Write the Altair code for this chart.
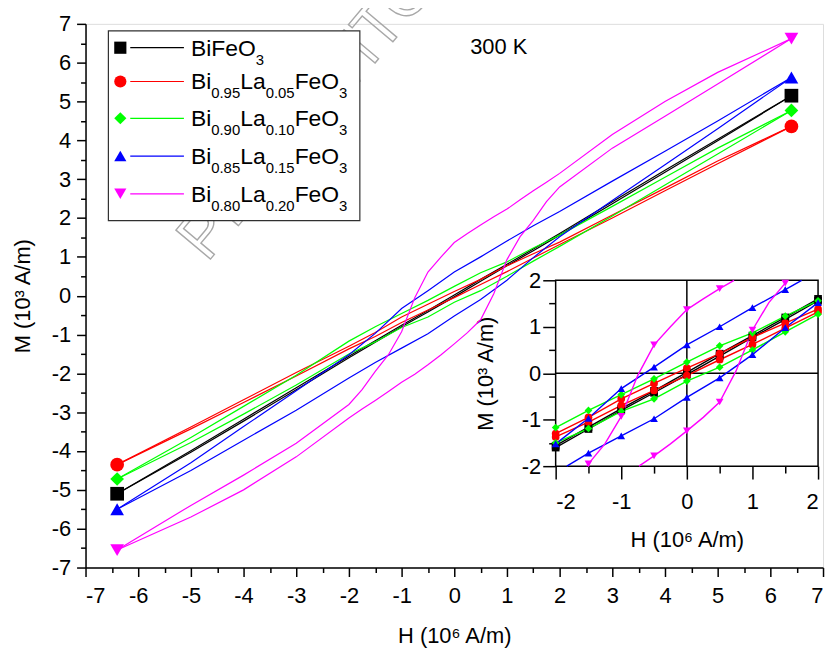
import altair as alt
import pandas as pd

# ---------------- data ----------------
SERIES = ["BiFeO3", "Bi0.95La0.05FeO3", "Bi0.90La0.10FeO3", "Bi0.85La0.15FeO3", "Bi0.80La0.20FeO3"]
COLORS = ["#000000", "#ff0000", "#00ff00", "#0000ff", "#ff00ff"]
INSET_MARK_COLORS = ["#000000", "#ff0000", "#0a7d0a", "#0000ff", "#ff00ff"]
SHAPES = ["square", "circle", "diamond", "triangle-up", "triangle-down"]

H_STD = [-6.4, -5, -4, -3, -2, -1.5, -1, -0.5, 0, 0.5, 1, 1.5, 2, 3, 4, 5, 6.4]
H_MAG = [-6.4, -5, -4, -3, -2, -1.75, -1.5, -1.25, -1, -0.75, -0.5, -0.25, 0, 0.25, 0.5,
         0.75, 1, 1.25, 1.5, 1.75, 2, 3, 4, 5, 6.4]

# ascending (lower) branch and descending (upper) branch, M in 10^3 A/m
BLACK_LOW = [-5.10, -4.03, -3.23, -2.42, -1.60, -1.20, -0.80, -0.42, -0.03, 0.37, 0.77, 1.16, 1.56, 2.37, 3.18, 3.99, 5.15]
BLACK_UP = [-5.10, -3.99, -3.18, -2.37, -1.56, -1.16, -0.76, -0.38, 0.02, 0.42, 0.81, 1.20, 1.60, 2.42, 3.23, 4.03, 5.15]
RED_LOW = [-4.35, -3.43, -2.75, -2.07, -1.37, -1.05, -0.69, -0.37, -0.05, 0.29, 0.62, 0.97, 1.32, 2.00, 2.70, 3.40, 4.36]
RED_UP = [-4.35, -3.38, -2.68, -1.98, -1.30, -0.95, -0.55, -0.22, 0.11, 0.42, 0.77, 1.08, 1.38, 2.08, 2.77, 3.47, 4.36]
GREEN_LOW = [-4.72, -3.78, -3.05, -2.30, -1.50, -1.19, -0.82, -0.55, -0.17, 0.13, 0.50, 0.89, 1.27, 2.05, 2.85, 3.65, 4.77]
GREEN_UP = [-4.72, -3.65, -2.85, -2.05, -1.17, -0.80, -0.46, -0.12, 0.24, 0.59, 0.87, 1.23, 1.56, 2.30, 3.05, 3.80, 4.77]
BLUE_LOW = [-5.50, -4.50, -3.72, -2.95, -2.12, -1.72, -1.35, -0.98, -0.52, -0.10, 0.40, 0.98, 1.52, 2.45, 3.37, 4.30, 5.62]
BLUE_UP = [-5.50, -4.30, -3.37, -2.45, -1.52, -0.97, -0.33, 0.13, 0.61, 1.00, 1.41, 1.80, 2.17, 2.95, 3.72, 4.50, 5.62]
MAG_LOW = [-6.55, -5.70, -5.00, -4.15, -3.15, -2.92, -2.70, -2.47, -2.23, -2.02, -1.78, -1.52, -1.24,
           -0.95, -0.62, 0.05, 0.93, 1.52, 1.94, 2.42, 2.80, 3.80, 4.62, 5.45, 6.62]
MAG_UP = [-6.55, -5.40, -4.62, -3.80, -2.80, -2.42, -1.95, -1.52, -0.93, -0.05, 0.61, 1.00, 1.37,
          1.60, 1.82, 2.03, 2.23, 2.47, 2.70, 2.92, 3.15, 4.15, 5.00, 5.75, 6.62]

# where the inset curves meet the inset frame (series, branch, H, M)
INSET_EDGES = [
    ("Bi0.85La0.15FeO3", "low", -1.83, -2.0),
    ("Bi0.85La0.15FeO3", "up", 1.75, 2.0),
    ("Bi0.80La0.20FeO3", "low", -0.73, -2.0),
    ("Bi0.80La0.20FeO3", "low", 1.53, 2.0),
    ("Bi0.80La0.20FeO3", "up", -1.53, -2.0),
    ("Bi0.80La0.20FeO3", "up", 0.72, 2.0),
]

MAIN_TICKS = list(range(-7, 8))
MAIN_MINOR = [v + 0.5 for v in range(-7, 7)]
INSET_TICKS = [-2, -1, 0, 1, 2]
INSET_MINOR = [-1.5, -0.5, 0.5, 1.5]

LEGEND_PARTS = [
    [("BiFeO", 0), ("3", 1)],
    [("Bi", 0), ("0.95", 1), ("La", 0), ("0.05", 1), ("FeO", 0), ("3", 1)],
    [("Bi", 0), ("0.90", 1), ("La", 0), ("0.10", 1), ("FeO", 0), ("3", 1)],
    [("Bi", 0), ("0.85", 1), ("La", 0), ("0.15", 1), ("FeO", 0), ("3", 1)],
    [("Bi", 0), ("0.80", 1), ("La", 0), ("0.20", 1), ("FeO", 0), ("3", 1)],
]

# ---------------- tables ----------------
branches = {
    SERIES[0]: (H_STD, BLACK_LOW, BLACK_UP),
    SERIES[1]: (H_STD, RED_LOW, RED_UP),
    SERIES[2]: (H_STD, GREEN_LOW, GREEN_UP),
    SERIES[3]: (H_STD, BLUE_LOW, BLUE_UP),
    SERIES[4]: (H_MAG, MAG_LOW, MAG_UP),
}
rows = []
for si, s in enumerate(SERIES):
    hs, lo, up = branches[s]
    for h, m in zip(hs, lo):
        rows.append(dict(series=s, branch="low", H=h, M=m, si=si))
    for h, m in zip(hs, up):
        rows.append(dict(series=s, branch="up", H=h, M=m, si=si))
df = pd.DataFrame(rows)
df["key"] = df["series"] + "|" + df["branch"]

ends = df[(df["branch"] == "low") & (df["H"].abs() > 6)]

ins = df[(df["H"].abs() <= 2) & (df["M"].abs() <= 2)].copy()
edge_df = pd.DataFrame(INSET_EDGES, columns=["series", "branch", "H", "M"])
edge_df["key"] = edge_df["series"] + "|" + edge_df["branch"]
ins_lines = pd.concat([ins[["series", "branch", "H", "M", "key"]], edge_df], ignore_index=True)
ins_marks = ins[(ins["H"] * 2) % 1 == 0]

FONT = "Liberation Sans"
FS = 22
LABEL_EXPR = "'' + datum.value"

# plot area on page: x 86..828, y 22..569
W, Hh = 742, 547
xs_main = alt.Scale(domain=[-7, 7], nice=False, zero=False)
ys_main = alt.Scale(domain=[-7, 7], nice=False, zero=False)
# inset: x 559..823, y 280..467 on page
IX0, IX1, IY0, IY1 = 473, 737, 445, 258
xs_in = alt.Scale(domain=[-2, 2], range=[IX0, IX1], nice=False, zero=False)
ys_in = alt.Scale(domain=[-2, 2], range=[IY0, IY1], nice=False, zero=False)

color_scale = alt.Scale(domain=SERIES, range=COLORS)
shape_scale = alt.Scale(domain=SERIES, range=SHAPES)

axis_text = dict(grid=False, tickColor="black", tickWidth=1.5, labelFont=FONT, labelFontSize=FS,
                 labelColor="black", titleFont=FONT, titleFontSize=FS, titleFontWeight="normal",
                 titleColor="black", labelExpr=LABEL_EXPR)

main_x_axis = alt.Axis(orient="bottom", values=MAIN_TICKS, tickSize=9, labelPadding=9,
                       title="H (10⁶ A/m)", titleAnchor="middle", titleBaseline="alphabetic",
                       titleY=75, domainColor="black", domainWidth=1.5, **axis_text)
main_y_axis = alt.Axis(orient="left", values=MAIN_TICKS, tickSize=9, labelPadding=6,
                       title="M (10³ A/m)", titleBaseline="alphabetic", titleX=-56,
                       titleAnchor="middle", domainColor="black", domainWidth=1.5, **axis_text)

lines = alt.Chart(df).mark_line(strokeWidth=1.2).encode(
    x=alt.X("H:Q", scale=xs_main, axis=main_x_axis),
    y=alt.Y("M:Q", scale=ys_main, axis=main_y_axis),
    color=alt.Color("series:N", scale=color_scale, legend=None),
    detail="key:N",
    order="H:Q",
)

end_marks = alt.Chart(ends).mark_point(filled=True, opacity=1, size=190).encode(
    x=alt.X("H:Q", scale=xs_main, axis=None),
    y=alt.Y("M:Q", scale=ys_main, axis=None),
    color=alt.Color("series:N", scale=color_scale, legend=None),
    shape=alt.Shape("series:N", scale=shape_scale, legend=None),
)

minor_main = alt.Chart(pd.DataFrame({"H": [0], "M": [0]})).mark_point(opacity=0).encode(
    x=alt.X("H:Q", scale=xs_main, axis=alt.Axis(orient="bottom", values=MAIN_MINOR, tickSize=5,
            labels=False, domain=False, title=None, grid=False, tickColor="black", tickWidth=1.5)),
    y=alt.Y("M:Q", scale=ys_main, axis=alt.Axis(orient="left", values=MAIN_MINOR, tickSize=5,
            labels=False, domain=False, title=None, grid=False, tickColor="black", tickWidth=1.5)),
)

# inset
frame = alt.Chart(pd.DataFrame({"x0": [INSET_TICKS[0]], "x1": [INSET_TICKS[-1]],
                                "y0": [INSET_TICKS[0]], "y1": [INSET_TICKS[-1]]})).mark_rect(
    fill="white", stroke="black", strokeWidth=1.5).encode(
    x=alt.X("x0:Q", scale=xs_in, axis=None), x2="x1:Q",
    y=alt.Y("y0:Q", scale=ys_in, axis=None), y2="y1:Q",
)
zero_v = alt.Chart(pd.DataFrame({"x": [0], "y0": [-2], "y1": [2]})).mark_rule(
    color="black", strokeWidth=1.5).encode(
    x=alt.X("x:Q", scale=xs_in, axis=None),
    y=alt.Y("y0:Q", scale=ys_in, axis=None), y2="y1:Q",
)
zero_h = alt.Chart(pd.DataFrame({"y": [0], "x0": [-2], "x1": [2]})).mark_rule(
    color="black", strokeWidth=1.5).encode(
    y=alt.Y("y:Q", scale=ys_in, axis=None),
    x=alt.X("x0:Q", scale=xs_in, axis=None), x2="x1:Q",
)
in_lines = alt.Chart(ins_lines).mark_line(strokeWidth=1.4).encode(
    x=alt.X("H:Q", scale=xs_in, axis=None),
    y=alt.Y("M:Q", scale=ys_in, axis=None),
    color=alt.Color("series:N", scale=color_scale, legend=None),
    detail="key:N",
    order="H:Q",
)
in_marks = alt.Chart(ins_marks).mark_point(filled=True, opacity=1, size=60).encode(
    x=alt.X("H:Q", scale=xs_in, axis=None),
    y=alt.Y("M:Q", scale=ys_in, axis=None),
    color=alt.Color("series:N", scale=alt.Scale(domain=SERIES, range=INSET_MARK_COLORS), legend=None),
    shape=alt.Shape("series:N", scale=shape_scale, legend=None),
)
in_axes = alt.Chart(pd.DataFrame({"H": [0], "M": [0]})).mark_point(opacity=0).encode(
    x=alt.X("H:Q", scale=xs_in, axis=alt.Axis(orient="bottom", offset=-(Hh - IY0), values=INSET_TICKS,
            tickSize=13, labelPadding=13, title="H (10⁶ A/m)", titleBaseline="alphabetic",
            titleY=81, titleX=(IX0 + IX1) / 2, domain=False, **axis_text)),
    y=alt.Y("M:Q", scale=ys_in, axis=alt.Axis(orient="left", offset=-IX0, values=INSET_TICKS,
            tickSize=13, labelPadding=2, title="M (10³ A/m)", titleBaseline="alphabetic",
            titleX=-64, titleY=(IY0 + IY1) / 2, titleAngle=270, domain=False, **axis_text)),
)
in_minor = alt.Chart(pd.DataFrame({"H": [0], "M": [0]})).mark_point(opacity=0).encode(
    x=alt.X("H:Q", scale=xs_in, axis=alt.Axis(orient="bottom", offset=-(Hh - IY0), values=INSET_MINOR,
            tickSize=7, labels=False, domain=False, title=None, grid=False, tickColor="black",
            tickWidth=1.5)),
    y=alt.Y("M:Q", scale=ys_in, axis=alt.Axis(orient="left", offset=-IX0, values=INSET_MINOR,
            tickSize=7, labels=False, domain=False, title=None, grid=False, tickColor="black",
            tickWidth=1.5)),
)

# ---------------- legend (custom, for subscripts) ----------------
ARIAL = {"B": 667, "i": 222, "F": 611, "e": 556, "O": 778, "L": 556, "a": 556, ".": 278}
for d in "0123456789":
    ARIAL[d] = 556
LFS, SFS = 23, 15


def text_w(s, fs):
    return sum(ARIAL.get(c, 556) for c in s) * fs / 1000.0


ROW_Y = [24, 58, 95, 133, 171]
leg_sym, leg_line, leg_txt = [], [], []
for i, s in enumerate(SERIES):
    y = ROW_Y[i]
    leg_sym.append(dict(px=35, py=y, col=COLORS[i], shp=SHAPES[i]))
    leg_line.append(dict(px=45, px2=99, py=y, col=COLORS[i]))
    x = 106
    for part, sub in LEGEND_PARTS[i]:
        fs = SFS if sub else LFS
        leg_txt.append(dict(px=x, py=y + (17 if sub else 8), t=part, fs=fs))
        x += text_w(part, fs)

leg_box = alt.Chart(pd.DataFrame({"a": [0]})).mark_rect(
    fill="white", stroke="#303030", strokeWidth=1.2).encode(
    x=alt.value(23), x2=alt.value(276), y=alt.value(7), y2=alt.value(198))
leg_lines = alt.Chart(pd.DataFrame(leg_line)).mark_rule(strokeWidth=1.2).encode(
    x=alt.X("px:Q", scale=None, axis=None), x2="px2:Q",
    y=alt.Y("py:Q", scale=None, axis=None),
    color=alt.Color("col:N", scale=None))
leg_syms = alt.Chart(pd.DataFrame(leg_sym)).mark_point(filled=True, opacity=1, size=150).encode(
    x=alt.X("px:Q", scale=None, axis=None),
    y=alt.Y("py:Q", scale=None, axis=None),
    color=alt.Color("col:N", scale=None),
    shape=alt.Shape("shp:N", scale=None))
leg_texts = alt.Chart(pd.DataFrame(leg_txt)).mark_text(
    align="left", baseline="alphabetic", font=FONT, color="black").encode(
    x=alt.X("px:Q", scale=None, axis=None),
    y=alt.Y("py:Q", scale=None, axis=None),
    size=alt.Size("fs:Q", scale=None),
    text="t:N")

temp = alt.Chart(pd.DataFrame({"t": ["300 K"]})).mark_text(
    align="left", baseline="alphabetic", font=FONT, fontSize=FS, color="black").encode(
    x=alt.value(387), y=alt.value(30), text="t:N")

watermark = alt.Chart(pd.DataFrame({"t": ["РЕПОЗИТОРИЙ"]})).mark_text(
    align="center", baseline="middle", font=FONT, fontSize=66, angle=310,
    fill="white", fillOpacity=0, stroke="#a8a8a8", strokeWidth=1.4).encode(
    x=alt.value(268), y=alt.value(36), text="t:N")

chart = alt.layer(
    watermark, lines, end_marks, minor_main,
    frame, zero_v, zero_h, in_lines, in_marks, in_axes, in_minor,
    leg_box, leg_lines, leg_syms, leg_texts, temp,
).resolve_scale(x="independent", y="independent").properties(
    width=W, height=Hh,
    autosize=alt.AutoSizeParams(type="none"),
    padding={"left": 78, "top": 14, "right": 4, "bottom": 79},
).configure_view(stroke=None).configure(background="white")

chart.save("out.html", embed_options={"renderer": "svg", "actions": False})
